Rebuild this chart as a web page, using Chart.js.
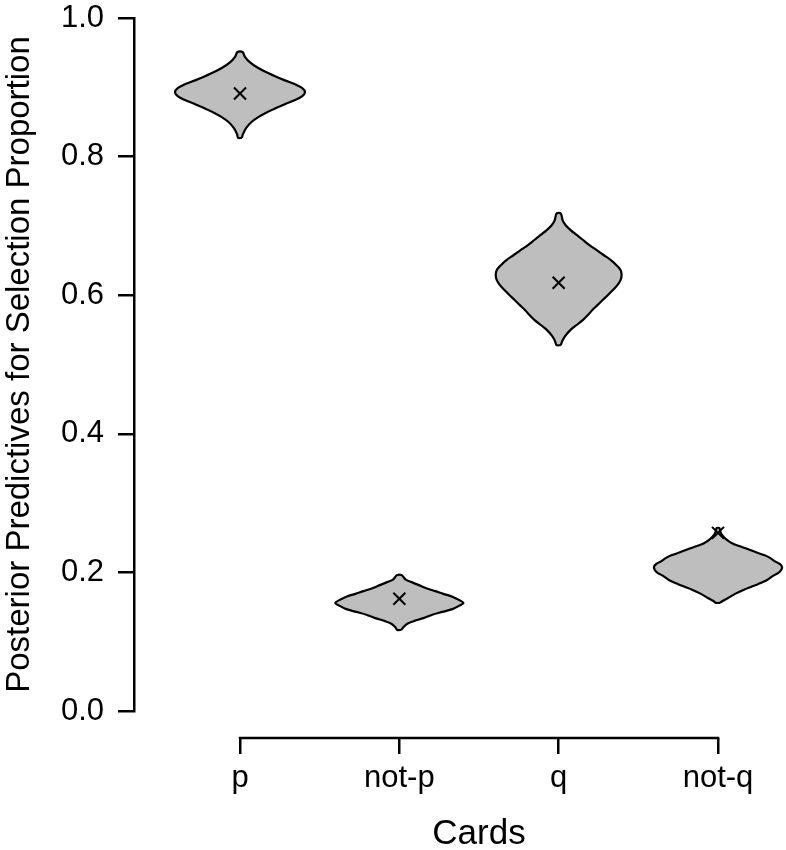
<!DOCTYPE html>
<html>
<head>
<meta charset="utf-8">
<title>Posterior predictives for selection proportion</title>
<script src="https://cdn.jsdelivr.net/npm/chart.js@4.4.1/dist/chart.umd.min.js"></script>
<style>
    html, body { margin: 0; padding: 0; background: #fff; }
    #wrap { width: 786px; height: 850px; position: relative; }
</style>
</head>
<body>
<div id="wrap"><canvas id="chart"></canvas></div>
<script>
(function () {
    "use strict";

    const categories = ["p", "not-p", "q", "not-q"];
    const yTicks = [0, 0.2, 0.4, 0.6, 0.8, 1.0];
    const observed = [0.891, 0.162, 0.618, 0.257];

    // violin outlines: proportion levels (bottom to top) and half widths in category units
    const pLevels = [0.827, 0.832, 0.841, 0.850, 0.857, 0.864, 0.870, 0.876, 0.881, 0.887, 0.893, 0.899, 0.905, 0.910, 0.916, 0.922, 0.929, 0.936, 0.944, 0.951];
    const pWidths = [0.012, 0.018, 0.038, 0.072, 0.115, 0.170, 0.226, 0.285, 0.339, 0.389, 0.408, 0.389, 0.339, 0.282, 0.220, 0.163, 0.107, 0.063, 0.031, 0.016];

    const notPLevels = [0.117, 0.121, 0.126, 0.130, 0.134, 0.139, 0.143, 0.147, 0.152, 0.156, 0.160, 0.165, 0.169, 0.173, 0.177, 0.182, 0.186, 0.190, 0.196];
    const notPWidths = [0.013, 0.025, 0.050, 0.094, 0.151, 0.207, 0.270, 0.333, 0.377, 0.402, 0.377, 0.333, 0.276, 0.226, 0.169, 0.119, 0.075, 0.038, 0.016];

    const qLevels = [0.528, 0.535, 0.542, 0.550, 0.557, 0.564, 0.571, 0.579, 0.586, 0.593, 0.600, 0.607, 0.615, 0.622, 0.629, 0.636, 0.643, 0.651, 0.658, 0.665, 0.672, 0.680, 0.687, 0.694, 0.701, 0.708, 0.718];
    const qWidths = [0.013, 0.025, 0.044, 0.075, 0.113, 0.151, 0.182, 0.213, 0.245, 0.276, 0.308, 0.339, 0.370, 0.389, 0.395, 0.389, 0.364, 0.326, 0.282, 0.239, 0.195, 0.151, 0.113, 0.075, 0.044, 0.025, 0.013];

    const notQLevels = [0.156, 0.159, 0.163, 0.169, 0.175, 0.179, 0.183, 0.189, 0.195, 0.199, 0.203, 0.208, 0.212, 0.216, 0.221, 0.225, 0.229, 0.234, 0.238, 0.242, 0.248, 0.254, 0.260, 0.264];
    const notQWidths = [0.013, 0.031, 0.063, 0.107, 0.163, 0.207, 0.251, 0.308, 0.345, 0.377, 0.395, 0.402, 0.389, 0.358, 0.326, 0.289, 0.239, 0.182, 0.132, 0.088, 0.050, 0.025, 0.013, 0.009];

    const violins = [
        { levels: pLevels, widths: pWidths },
        { levels: notPLevels, widths: notPWidths },
        { levels: qLevels, widths: qWidths },
        { levels: notQLevels, widths: notQWidths }
    ];

    const xAxisAt = -0.039;
    const font = '"Liberation Sans", Arial, Helvetica, sans-serif';
    Chart.defaults.font.family = font;
    Chart.defaults.color = "#000";

    // closed outline: right side going up, left side coming back down
    function outline(center, levels, widths) {
        const right = levels.map((v, i) => ({ x: center + widths[i], y: v }));
        const left = levels.map((v, i) => ({ x: center - widths[i], y: v })).reverse();
        return right.concat(left, [right[0]]);
    }

    const datasets = violins.map((v, i) => ({
        type: "line",
        data: outline(i + 1, v.levels, v.widths),
        borderColor: "#000",
        borderWidth: 2.2,
        backgroundColor: "#bebebe",
        fill: "shape",
        pointRadius: 0,
        tension: 0.3,
        order: 2
    }));

    datasets.push({
        type: "scatter",
        data: observed.map((v, i) => ({ x: i + 1, y: v })),
        pointStyle: "crossRot",
        pointRadius: 8.5,
        borderColor: "#000",
        backgroundColor: "#000",
        borderWidth: 2,
        order: 1
    });

    // R style x axis: line only between first and last tick, title under it
    const xAxisLine = {
        id: "xAxisLine",
        afterDraw(chart) {
            const { ctx, scales: { x, y } } = chart;
            const py = y.getPixelForValue(xAxisAt);
            const x0 = x.getPixelForValue(1);
            const x1 = x.getPixelForValue(categories.length);
            ctx.save();
            ctx.strokeStyle = "#000";
            ctx.lineWidth = 2.5;
            ctx.beginPath();
            ctx.moveTo(x0 - 1.25, py);
            ctx.lineTo(x1 + 1.25, py);
            ctx.stroke();
            ctx.fillStyle = "#000";
            ctx.font = "35px " + font;
            ctx.textAlign = "center";
            ctx.textBaseline = "alphabetic";
            ctx.fillText("Cards", (x0 + x1) / 2, py + 106);
            ctx.restore();
        }
    };

    new Chart(document.getElementById("chart"), {
        type: "scatter",
        data: { datasets: datasets },
        options: {
            responsive: true,
            maintainAspectRatio: false,
            animation: false,
            layout: { autoPadding: false, padding: { top: 18, right: 0, bottom: 139, left: 0 } },
            plugins: {
                legend: { display: false },
                tooltip: { enabled: false }
            },
            scales: {
                x: {
                    type: "linear",
                    position: { y: xAxisAt },
                    min: 0.33473,
                    max: 4.42678,
                    afterBuildTicks: (s) => { s.ticks = categories.map((c, i) => ({ value: i + 1 })); },
                    afterFit: (s) => { s.paddingLeft = 0; s.paddingRight = 0; },
                    grid: { drawOnChartArea: false, drawTicks: true, tickLength: 16, color: "#000", lineWidth: 2.5 },
                    border: { display: false },
                    ticks: {
                        autoSkip: false,
                        maxRotation: 0,
                        padding: 6,
                        color: "#000",
                        font: { size: 31 },
                        callback: (v) => categories[v - 1]
                    }
                },
                y: {
                    min: 0,
                    max: 1,
                    afterBuildTicks: (s) => { s.ticks = yTicks.map((v) => ({ value: v })); },
                    afterFit: (s) => { s.width = 134; s.paddingTop = 0; s.paddingBottom = 0; },
                    grid: { drawOnChartArea: false, drawTicks: true, tickLength: 16, color: "#000", lineWidth: 2.5 },
                    border: { display: true, color: "#000", width: 2.5 },
                    ticks: {
                        padding: 14,
                        color: "#000",
                        font: { size: 31 },
                        callback: (v) => v.toFixed(1)
                    },
                    title: {
                        display: true,
                        text: "Posterior Predictives for Selection Proportion",
                        color: "#000",
                        font: { size: 33 },
                        padding: { top: 0, bottom: 0 }
                    }
                }
            }
        },
        plugins: [xAxisLine]
    });
})();
</script>
</body>
</html>
